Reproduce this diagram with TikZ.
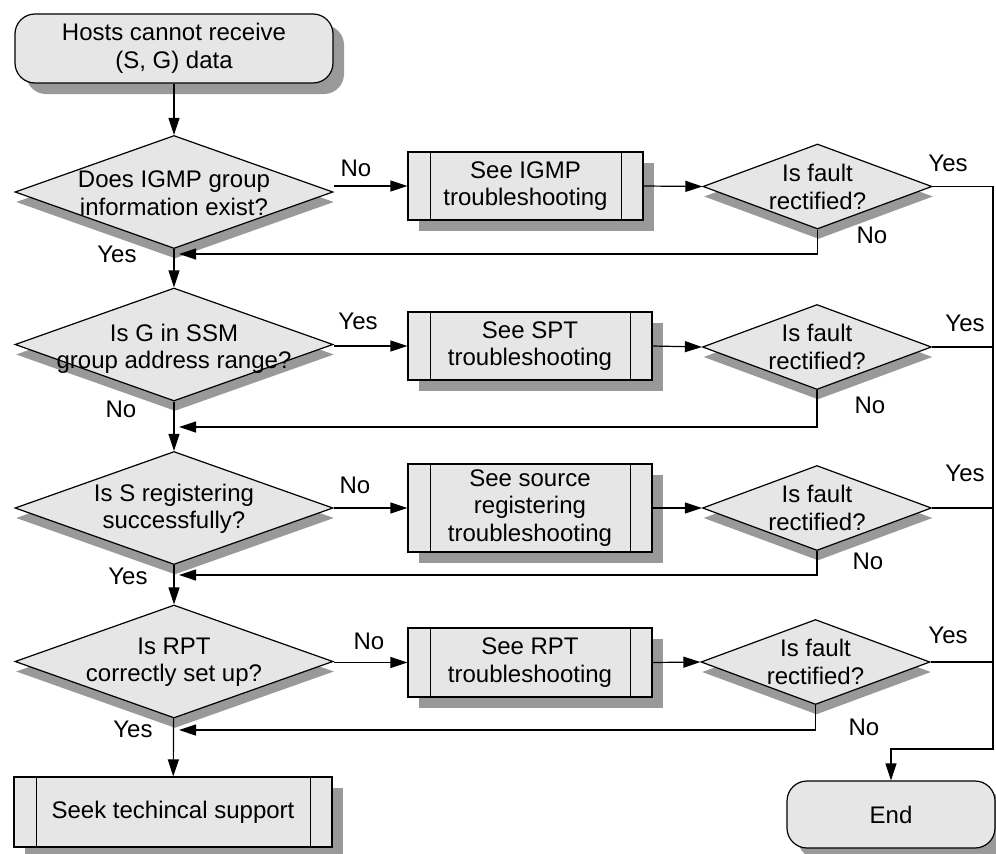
\documentclass[tikz,border=0pt]{standalone}
\usepackage{fontspec}
\setmainfont{Liberation Sans}
\usetikzlibrary{shapes.geometric,shadows,arrows.meta}

\definecolor{boxfill}{HTML}{E6E6E6}
\definecolor{shade}{HTML}{999999}

\begin{document}
\begin{tikzpicture}[x=1pt,y=-1pt,
  every node/.style={font=\fontsize{24}{27.5}\selectfont, align=center, inner sep=0pt},
  base/.style={draw=black, line width=1.2pt, fill=boxfill},
  boxshadow/.style={drop shadow={opacity=1, fill=shade, shadow xshift=11pt, shadow yshift=-11pt}},
  diashadow/.style={drop shadow={opacity=1, fill=shade, shadow xshift=1pt, shadow yshift=-10pt}},
  terminal/.style={base, rectangle, rounded corners=20pt, boxshadow},
  decision/.style={base, diamond, diashadow, minimum width=318pt, minimum height=113pt},
  check/.style={base, diamond, diashadow, minimum width=229pt, minimum height=85pt},
  procbox/.style={base, rectangle, boxshadow},
  arr/.style={line width=1.2pt, -{Triangle[length=17pt, width=11pt]}},
  conn/.style={line width=1.2pt},
  lbl/.style={}
]
\useasboundingbox (0,0) rectangle (996,854);

% main column
\node[terminal, minimum width=318pt, minimum height=69pt] (S) at (174,48.5)
  {Hosts cannot receive\\(S, G) data};
\node[decision] (D1) at (174,192) {};
\node (tD1) at (174,193) {Does IGMP group\\information exist?};
\node[decision] (D2) at (174,344.5) {};
\node (tD2) at (174,349) {Is G in SSM\\group address range?};
\node[decision] (D3) at (174,508) {};
\node (tD3) at (174,509) {Is S registering\\successfully?};
\node[decision] (D4) at (174,661.5) {};
\node (tD4) at (174,662) {Is RPT\\correctly set up?};
\node[procbox, minimum width=318pt, minimum height=70pt] (T) at (173,812)
  {Seek techincal support};

% troubleshooting procedures
\node[procbox, minimum width=235pt, minimum height=68pt] (B1) at (525.5,186)
  {See IGMP\\troubleshooting};
\node[procbox, minimum width=244pt, minimum height=68pt] (B2) at (530,346)
  {See SPT\\troubleshooting};
\node[procbox, minimum width=244pt, minimum height=88pt] (B3) at (530,508)
  {See source\\registering\\troubleshooting};
\node[procbox, minimum width=244pt, minimum height=69pt] (B4) at (530,662.5)
  {See RPT\\troubleshooting};

% side bars of the predefined-process boxes
\foreach \b in {B1,B2,B3,B4,T}{
  \draw[conn] ([xshift=23pt]\b.north west) -- ([xshift=23pt]\b.south west);
  \draw[conn] ([xshift=-22pt]\b.north east) -- ([xshift=-22pt]\b.south east);
}

% fault checks
\node[check] (F1) at (817.5,186.5) {};
\node (tF1) at (817.5,187) {Is fault\\rectified?};
\node[check] (F2) at (817,347) {};
\node (tF2) at (817,347) {Is fault\\rectified?};
\node[check] (F3) at (817,508) {};
\node (tF3) at (817,508) {Is fault\\rectified?};
\node[check] (F4) at (815.5,662) {};
\node (tF4) at (815.5,662) {Is fault\\rectified?};

\node[terminal, minimum width=208pt, minimum height=67pt] (E) at (891,814.5) {End};

% connector waypoints
\coordinate (rt) at (993,186.5);
\coordinate (rb) at (993,749);
\coordinate (r1) at (179,254);
\coordinate (r2) at (179,427);
\coordinate (r3) at (179,575);
\coordinate (r4) at (179,730);

% main column arrows
\draw[arr] (S) -- (D1);
\draw[arr] (D1) -- (D2);
\draw[arr] (D2) -- (D3);
\draw[arr] (D3) -- (D4);
\draw[arr] (D4) -- (T);

% branches to the procedures
\draw[arr] (D1.east |- B1.west) -- (B1.west);
\draw[arr] (D2.east |- B2.west) -- (B2.west);
\draw[arr] (D3.east |- B3.west) -- (B3.west);
\draw[arr] (D4.east |- B4.west) -- (B4.west);
\draw[arr] (B1.east) -- (F1.west);
\draw[arr] (B2.east) -- (F2.west);
\draw[arr] (B3.east) -- (F3.west);
\draw[arr] (B4.east) -- (F4.west);

% "No" returns to the main column
\draw[arr] (F1.south) |- (r1);
\draw[arr] (F2.south) |- (r2);
\draw[arr] (F3.south) |- (r3);
\draw[arr] (F4.south) |- (r4);

% "Yes" exits to End
\draw[arr] (F1.east) -- (rt) -- (rb) -| (E.north);
\draw[conn] (F2.east) -- (F2.east -| rt);
\draw[conn] (F3.east) -- (F3.east -| rt);
\draw[conn] (F4.east) -- (F4.east -| rt);

% branch labels
\node[lbl] (l1a) at (356,168) {No};
\node[lbl] (l1b) at (117,254) {Yes};
\node[lbl] (l1c) at (948,163) {Yes};
\node[lbl] (l1d) at (872,235) {No};

\node[lbl] (l2a) at (358,321) {Yes};
\node[lbl] (l2b) at (121,409) {No};
\node[lbl] (l2c) at (965,323) {Yes};
\node[lbl] (l2d) at (870,405) {No};

\node[lbl] (l3a) at (355,485) {No};
\node[lbl] (l3b) at (128,576) {Yes};
\node[lbl] (l3c) at (965,473) {Yes};
\node[lbl] (l3d) at (868,561) {No};

\node[lbl] (l4a) at (369,641) {No};
\node[lbl] (l4b) at (133,729) {Yes};
\node[lbl] (l4c) at (948,635) {Yes};
\node[lbl] (l4d) at (864,727) {No};
\end{tikzpicture}
\end{document}
